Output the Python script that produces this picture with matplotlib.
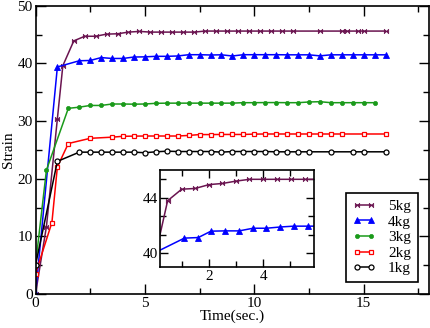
import matplotlib
matplotlib.use("Agg")
import matplotlib.pyplot as plt
from matplotlib.path import Path
from matplotlib.ticker import MultipleLocator, AutoMinorLocator

plt.rcParams['font.family'] = ['Liberation Serif', 'DejaVu Serif']

# ---------------- data ----------------
labels = ["5kg", "4kg", "3kg", "2kg", "1kg"]

t_5kg = [0, 0.5, 1.0, 1.25, 1.75, 2.25, 2.75, 3.25, 3.75, 4.25, 4.75, 5.25, 5.75, 6.25,
         6.75, 7.25, 7.75, 8.25, 8.75, 9.25, 9.75, 10.25, 10.75, 11.25, 11.75, 13.0,
         14.0, 14.25, 14.75, 15.0, 16.0]
s_5kg = [0, 11.7, 30.4, 39.6, 43.9, 44.7, 44.7, 45.07, 45.13, 45.42, 45.54, 45.42, 45.42,
         45.42, 45.42, 45.42, 45.6, 45.6, 45.6, 45.6, 45.6, 45.6, 45.6, 45.6, 45.6, 45.6,
         45.6, 45.6, 45.6, 45.6, 45.6]

t_4kg = [0, 1.0, 2.0, 2.5, 3.0, 3.5, 4.0, 4.5, 5.0, 5.5, 6.0, 6.5, 7.0, 7.5, 8.0, 8.5,
         9.0, 9.5, 10.0, 10.5, 11.0, 11.5, 12.0, 12.5, 13.0, 13.5, 14.0, 14.5, 15.0,
         15.5, 16.0]
s_4kg = [0, 39.38, 40.45, 40.5, 41.0, 40.85, 40.85, 41.1, 41.13, 41.22, 41.22, 41.28,
         41.5, 41.5, 41.45, 41.48, 41.28, 41.5, 41.5, 41.5, 41.5, 41.48, 41.48, 41.48,
         41.3, 41.48, 41.48, 41.48, 41.48, 41.48, 41.48]

t_3kg = [0, 0.5, 1.5, 2.0, 2.5, 3.0, 3.5, 4.0, 4.5, 5.0, 5.5, 6.0, 6.5, 7.0, 7.5, 8.0,
         8.5, 9.0, 9.5, 10.0, 10.5, 11.0, 11.5, 12.0, 12.5, 13.0, 13.5, 14.0, 14.5,
         15.0, 15.5]
s_3kg = [5.0, 21.5, 32.2, 32.4, 32.7, 32.7, 32.95, 32.95, 32.92, 32.95, 33.07, 33.1,
         33.1, 33.1, 33.1, 33.1, 33.1, 33.1, 33.18, 33.18, 33.2, 33.2, 33.18, 33.18,
         33.3, 33.35, 33.18, 33.18, 33.18, 33.18, 33.18]

t_2kg = [0, 0.75, 1.0, 1.5, 2.5, 3.5, 4.0, 4.5, 5.0, 5.5, 6.0, 6.5, 7.0, 7.5, 8.0, 8.5,
         9.0, 9.5, 10.0, 10.5, 11.0, 11.5, 12.0, 12.5, 13.0, 13.5, 14.0, 15.0, 16.0]
s_2kg = [3.5, 12.4, 22.05, 26.1, 27.0, 27.2, 27.35, 27.38, 27.4, 27.4, 27.4, 27.4, 27.5,
         27.65, 27.65, 27.67, 27.67, 27.67, 27.73, 27.75, 27.75, 27.75, 27.75, 27.75,
         27.75, 27.75, 27.75, 27.75, 27.75]

t_1kg = [0, 1.0, 2.0, 2.5, 3.0, 3.5, 4.0, 4.5, 5.0, 5.5, 6.0, 6.5, 7.0, 7.5, 8.0, 8.5,
         9.0, 9.5, 10.0, 10.5, 11.0, 11.5, 12.0, 12.5, 13.5, 14.5, 15.0, 16.0]
s_1kg = [5.0, 23.0, 24.6, 24.6, 24.6, 24.6, 24.6, 24.6, 24.5, 24.66, 24.77, 24.71, 24.71,
         24.71, 24.71, 24.6, 24.71, 24.71, 24.71, 24.71, 24.66, 24.66, 24.66, 24.66,
         24.66, 24.66, 24.66, 24.66]

# inset data
ti_5kg = [0.0, 0.47, 0.99, 1.48, 2.0, 2.49, 2.99, 3.49, 4.0, 4.52, 5.02, 5.52, 6.0]
si_5kg = [39.7, 43.79, 44.62, 44.67, 44.95, 45.03, 45.2, 45.33, 45.33, 45.33, 45.33,
          45.33, 45.33]
ti_4kg = [0.0, 1.09, 1.6, 2.07, 2.59, 3.11, 3.62, 4.11, 4.63, 5.12, 5.64, 6.0]
si_4kg = [40.05, 41.1, 41.14, 41.6, 41.62, 41.62, 41.81, 41.81, 41.9, 41.96, 41.96, 41.96]

# ---------------- styles ----------------
bowtie = Path([(-1, -1), (-1, 1), (1, -1), (1, 1), (-1, -1)],
              [Path.MOVETO, Path.LINETO, Path.LINETO, Path.LINETO, Path.CLOSEPOLY])

c5, c4, c3, c2, c1 = "#6a1450", "#0000ff", "#1a9a1a", "#ff0000", "#000000"
styles = [
    dict(color=c5, marker=bowtie, ms=3.2, mfc=c5, mec=c5, mew=0.5),
    dict(color=c4, marker="^", ms=3.8, mfc=c4, mec=c4, mew=0.6),
    dict(color=c3, marker="o", ms=3.0, mfc=c3, mec=c3, mew=0.5),
    dict(color=c2, marker="s", ms=3.4, mfc="white", mec=c2, mew=0.9),
    dict(color=c1, marker="o", ms=3.6, mfc="white", mec=c1, mew=0.9),
]
LW = 1.1

W, H = 431, 328
fig = plt.figure(figsize=(W / 100, H / 100), dpi=100)
ax = fig.add_axes([35.5 / W, 1 - 294 / H, (429.3 - 35.5) / W, (294 - 5.7) / H])

series = [(t_5kg, s_5kg), (t_4kg, s_4kg), (t_3kg, s_3kg), (t_2kg, s_2kg), (t_1kg, s_1kg)]
for (t, s), lab, st in zip(series, labels, styles):
    ax.plot(t, s, lw=LW, label=lab, **st)

ax.set_xlim(0, 18)
ax.set_ylim(0, 50)
ax.xaxis.set_major_locator(MultipleLocator(5))
ax.xaxis.set_minor_locator(MultipleLocator(2.5))
ax.yaxis.set_major_locator(MultipleLocator(10))
ax.yaxis.set_minor_locator(MultipleLocator(5))
ax.tick_params(which="both", direction="in", top=True, right=True, labelsize=11, width=1.0)
ax.tick_params(which="major", length=7.5, pad=2)
ax.tick_params(which="minor", length=4.5)
for sp in ax.spines.values():
    sp.set_linewidth(1.2)
ax.set_xlabel("Time(sec.)", fontsize=11, labelpad=0)
ax.set_ylabel("Strain", fontsize=11, labelpad=2)

leg = ax.legend(loc="upper left", bbox_to_anchor=(346 / W, 1 - 192.7 / H),
                bbox_transform=fig.transFigure, fontsize=11, numpoints=2,
                handlelength=1.5, handletextpad=0.8, labelspacing=0.12,
                borderpad=0.45, borderaxespad=0, fancybox=False, framealpha=1)
leg.get_frame().set_edgecolor("black")
leg.get_frame().set_linewidth(1.2)

# inset
axi = fig.add_axes([160.3 / W, 1 - 267.3 / H, (314 - 160.3) / W, (267.3 - 170) / H])
axi.plot(ti_5kg, si_5kg, lw=LW, **styles[0])
axi.plot(ti_4kg, si_4kg, lw=LW, **styles[1])
axi.set_xlim(0.2, 5.87)
axi.set_ylim(39, 46)
axi.xaxis.set_major_locator(MultipleLocator(2))
axi.xaxis.set_minor_locator(MultipleLocator(1))
axi.yaxis.set_major_locator(MultipleLocator(4))
axi.yaxis.set_minor_locator(AutoMinorLocator(3))
axi.tick_params(which="both", direction="in", top=True, right=True, labelsize=11, width=1.0)
axi.tick_params(which="major", length=6, pad=2)
axi.tick_params(which="minor", length=4)
for sp in axi.spines.values():
    sp.set_linewidth(1.2)

fig.savefig("out.png", dpi=100)
